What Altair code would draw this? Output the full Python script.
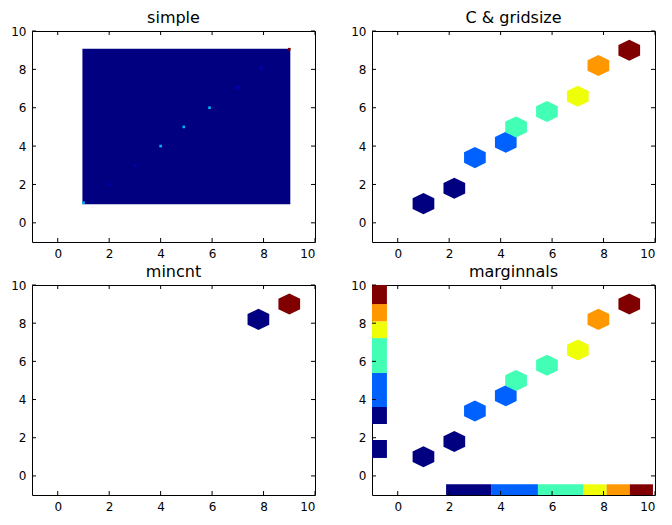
import altair as alt
import pandas as pd

# ---------------- data ----------------
tick_values = [0, 2, 4, 6, 8, 10]
axis_domain = [-1, 10]

# "simple": default gridsize (100) over the data extent; mostly zero-count cells
simple_extent_x = [0.96, 9.04]
simple_extent_y = [0.97, 9.08]
simple_x = [1.0, 2.0, 3.0, 4.0, 4.9, 5.9, 7.0, 7.9, 9.0]
simple_y = [1.05, 2.0, 3.0, 4.0, 5.0, 6.0, 7.05, 8.05, 9.05]
simple_c = [0.3, 0.04, 0.04, 0.3, 0.3, 0.3, 0.06, 0.06, 1.0]

# "C & gridsize" (also used in "marginnals")
hex_x = [1.0, 2.2, 3.0, 4.2, 4.6, 5.8, 7.0, 7.8, 9.0]
hex_y = [1.0, 1.8, 3.4, 4.2, 5.0, 5.8, 6.6, 8.2, 9.0]
hex_c = [0.0, 0.0, 0.22, 0.22, 0.43, 0.43, 0.64, 0.75, 1.0]

# "mincnt"
mincnt_x = [7.8, 9.0]
mincnt_y = [8.2, 9.0]
mincnt_c = [0.0, 1.0]

# "marginnals": marginal bars
margx_lo = [1.88, 3.65, 5.45, 7.22, 8.12, 9.02]
margx_hi = [3.65, 5.45, 7.22, 8.12, 9.02, 9.92]
margx_c = [0.0, 0.22, 0.43, 0.64, 0.75, 1.0]
margx_band = [-1.0, -0.44]

margy_lo = [0.94, 2.72, 3.61, 5.39, 7.22, 8.10, 9.00]
margy_hi = [1.88, 3.61, 5.39, 7.22, 8.10, 9.00, 10.0]
margy_c = [0.0, 0.0, 0.22, 0.43, 0.64, 0.75, 1.0]
margy_band = [-1.0, -0.42]

# jet colormap stops
jet_domain = [0, 0.11, 0.125, 0.34, 0.35, 0.375, 0.64, 0.65, 0.66, 0.89, 0.91, 1]
jet_range = ['#000080', '#0000ff', '#0000ff', '#00dbff', '#00e6f7', '#15ffe2',
             '#efff08', '#f7f600', '#ffec00', '#ff1300', '#e80000', '#800000']

W = 283
TICK = 4
HEX = "M0,-0.97L1,-0.485L1,0.485L0,0.97L-1,0.485L-1,-0.485Z"

scale = alt.Scale(domain=axis_domain, nice=False, zero=False)
cscale = alt.Scale(domain=jet_domain, range=jet_range, interpolate='rgb')


def X(f):
    return alt.X(f, type='quantitative', scale=scale, axis=alt.Axis(values=tick_values, title=None))


def Y(f):
    return alt.Y(f, type='quantitative', scale=scale, axis=alt.Axis(values=tick_values, title=None))


def C(f):
    return alt.Color(f, type='quantitative', scale=cscale, legend=None)


ticks_df = pd.DataFrame({'t': tick_values})


def ticks(H):
    base = alt.Chart(ticks_df).mark_rule(color='black', strokeWidth=1)
    return [
        base.encode(x=X('t'), y=alt.value(H), y2=alt.value(H - TICK)),
        base.encode(x=X('t'), y=alt.value(0), y2=alt.value(TICK)),
        base.encode(y=Y('t'), x=alt.value(0), x2=alt.value(TICK)),
        base.encode(y=Y('t'), x=alt.value(W), x2=alt.value(W - TICK)),
    ]


def hexes(xs, ys, cs):
    df = pd.DataFrame({'x': xs, 'y': ys, 'c': cs})
    return alt.Chart(df).mark_point(shape=HEX, filled=True, size=471, opacity=1,
                                    strokeWidth=0).encode(x=X('x'), y=Y('y'), color=C('c'))


def panel(title, layers, H):
    return alt.layer(*layers, *ticks(H)).properties(
        width=W, height=H, title=alt.TitleParams(title))


# simple
ext_df = pd.DataFrame({'x0': [simple_extent_x[0]], 'x1': [simple_extent_x[1]],
                       'y0': [simple_extent_y[0]], 'y1': [simple_extent_y[1]], 'c': [0.0]})
simple_bg = alt.Chart(ext_df).mark_rect().encode(
    x=X('x0'), x2='x1', y=Y('y0'), y2='y1', color=C('c'))
simple_df = pd.DataFrame({'x': simple_x, 'y': simple_y, 'c': simple_c})
simple_pts = alt.Chart(simple_df).mark_point(shape='square', filled=True, size=7, opacity=1,
                                             strokeWidth=0).encode(
    x=X('x'), y=Y('y'), color=C('c'))
p1 = panel('simple', [simple_bg, simple_pts], 211)

# C & gridsize
p2 = panel('C & gridsize', [hexes(hex_x, hex_y, hex_c)], 211)

# mincnt
p3 = panel('mincnt', [hexes(mincnt_x, mincnt_y, mincnt_c)], 210)

# marginals
mx_df = pd.DataFrame({'x0': margx_lo, 'x1': margx_hi, 'c': margx_c,
                      'y0': [margx_band[0]] * len(margx_lo), 'y1': [margx_band[1]] * len(margx_lo)})
my_df = pd.DataFrame({'y0': margy_lo, 'y1': margy_hi, 'c': margy_c,
                      'x0': [margy_band[0]] * len(margy_lo), 'x1': [margy_band[1]] * len(margy_lo)})
mx = alt.Chart(mx_df).mark_rect(clip=True).encode(x=X('x0'), x2='x1', y=Y('y0'), y2='y1', color=C('c'))
my = alt.Chart(my_df).mark_rect(clip=True).encode(x=X('x0'), x2='x1', y=Y('y0'), y2='y1', color=C('c'))
p4 = panel('marginnals', [mx, my, hexes(hex_x, hex_y, hex_c)], 210)

chart = alt.vconcat(
    alt.hconcat(p1, p2, spacing=34),
    alt.hconcat(p3, p4, spacing=34),
    spacing=3,
).properties(
    padding={'left': 2, 'top': 1, 'right': 0, 'bottom': 0},
    background='white'
).configure_view(
    stroke='black', strokeWidth=1
).configure_axis(
    ticks=False, tickSize=0, domain=False, grid=False, labelFont='DejaVu Sans', labelFontSize=12,
    labelColor='black', labelPadding=6
).configure_title(
    font='DejaVu Sans', fontSize=16, fontWeight='normal', color='black',
    anchor='middle', offset=-1, baseline='alphabetic', frame='group'
)

chart.save('out.html', embed_options={'renderer': 'svg', 'actions': False})
